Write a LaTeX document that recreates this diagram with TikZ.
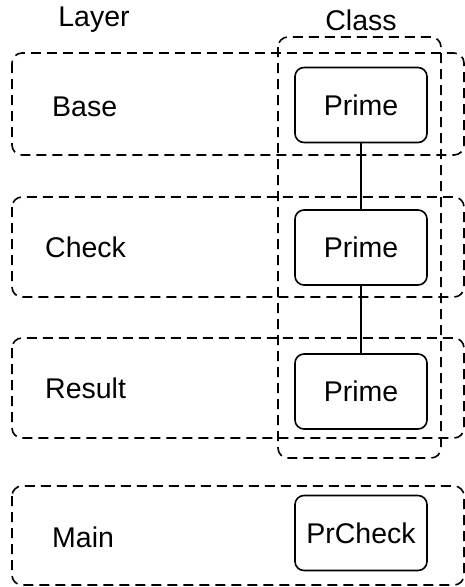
\documentclass[tikz,border=0pt]{standalone}
\usepackage{fontspec}
\setmainfont{Liberation Sans}
\begin{document}
\begin{tikzpicture}[x=1pt,y=-1pt,
  layerbox/.style={draw, line width=1.6pt, dash pattern=on 10pt off 6pt, rounded corners=10pt},
  classbox/.style={draw, line width=1.6pt, rounded corners=9pt, minimum width=132pt, minimum height=75pt, text height=20.5pt, text depth=0pt, inner sep=0pt, font=\fontsize{28.5}{32}\selectfont},
  lbl/.style={font=\fontsize{28.5}{32}\selectfont, inner sep=0pt},
  conn/.style={line width=1.4pt}]
\useasboundingbox (0,0) rectangle (465,587);
% layer boxes
\draw[layerbox] (12,53) rectangle (464,155);
\draw[layerbox] (12,197) rectangle (464,297);
\draw[layerbox] (12,338) rectangle (464,438);
\draw[layerbox] (12,486) rectangle (464,585);
% class box
\draw[layerbox] (278,37) rectangle (441,458);
% headings
\node[lbl, anchor=base] (layer) at (94,26.5) {Layer};
\node[lbl, anchor=base] (class) at (361,30) {Class};
% layer labels
\node[lbl, anchor=base west] (base) at (52,116) {Base};
\node[lbl, anchor=base west] (check) at (45,257.5) {Check};
\node[lbl, anchor=base west] (result) at (45,398) {Result};
\node[lbl, anchor=base west] (main) at (52,547) {Main};
% classes
\node[classbox] (p1) at (361,105) {Prime};
\node[classbox] (p2) at (361,247.5) {Prime};
\node[classbox] (p3) at (361,391.5) {Prime};
\node[classbox] (pc) at (361,533) {PrCheck};
\draw[conn] (p1) -- (p2);
\draw[conn] (p2) -- (p3);
\end{tikzpicture}
\end{document}
